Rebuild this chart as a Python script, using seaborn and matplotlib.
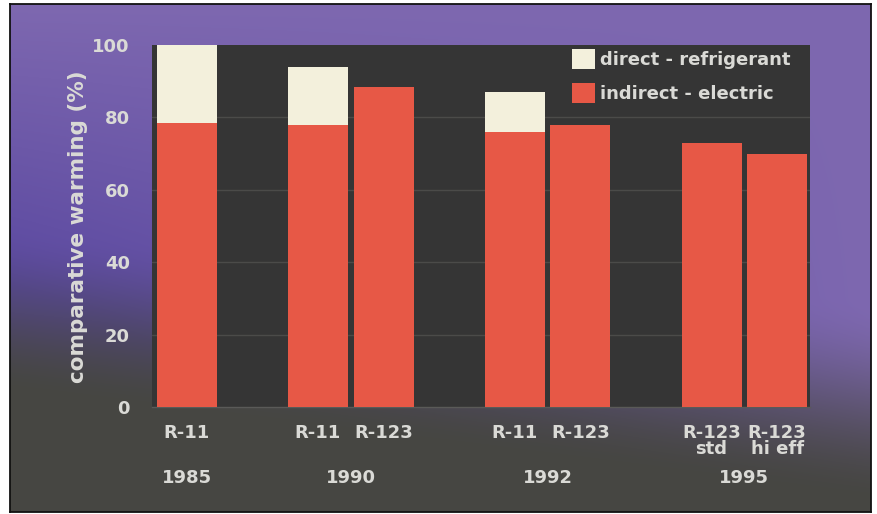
import numpy as np
import pandas as pd
import matplotlib
matplotlib.use("Agg")
import matplotlib.pyplot as plt
from matplotlib.patches import Patch
import seaborn as sns

# ---- data -------------------------------------------------------------
years = ["1985", "1990", "1992", "1995"]
bar_year = ["1985", "1990", "1990", "1992", "1992", "1995", "1995"]
bar_labels = ["R-11", "R-11", "R-123", "R-11", "R-123", "R-123\nstd", "R-123\nhi eff"]
indirect_electric = [78.5, 78, 88.5, 76, 78, 73, 70]
direct_refrigerant = [21.5, 16, 0, 11, 0, 0, 0]
y_ticks = [0, 20, 40, 60, 80, 100]
legend_labels = ["direct - refrigerant", "indirect - electric"]

# ---- styling ------------------------------------------------------------
RED = "#e75846"
CREAM = "#f3f0dc"
PLOT_BG = "#353535"
TEXT = "#dadad6"

sns.set_style("dark")
plt.rcParams["font.family"] = ["DejaVu Sans"]
plt.rcParams["font.weight"] = "bold"

# bars sit one slot apart inside a year, with an empty slot between years
pos, p, prev = [], 0, None
for yr in bar_year:
    if prev is not None:
        p += 1 if yr == prev else 2
    pos.append(p)
    prev = yr

df = pd.DataFrame({
    "pos": pos,
    "label": bar_labels,
    "year": bar_year,
    "indirect": indirect_electric,
    "direct": direct_refrigerant,
})
df["total"] = df["indirect"] + df["direct"]

W_PX, H_PX = 878, 514
fig = plt.figure(figsize=(W_PX / 100, H_PX / 100), dpi=100, facecolor="white")

# ---- slide background: purple fading into dark grey towards the bottom --
fx0, fy0, fx1, fy1 = 10, 4, 871, 512
bw, bh = fx1 - fx0, fy1 - fy0
yy, xx = np.mgrid[0:bh, 0:bw].astype(float)
xf = xx / bw
purple_top = np.array([126, 104, 176]) / 255
purple_left = np.array([90, 72, 160]) / 255
dark = np.array([70, 70, 66]) / 255
hmix = np.clip((1 - xf) * (yy / bh) * 1.8, 0, 1)[..., None]
purple = purple_top * (1 - hmix) + purple_left * hmix
y_start = 225 + 70 * xf
y_span = 165 + 40 * xf
d = np.clip((yy - y_start) / y_span, 0, 1)
d = (d * d * (3 - 2 * d))[..., None]
img = purple * (1 - d) + dark * d

bg = fig.add_axes([fx0 / W_PX, 1 - fy1 / H_PX, bw / W_PX, bh / H_PX])
bg.imshow(img, aspect="auto", interpolation="bilinear")
bg.set_xticks([])
bg.set_yticks([])
for s in bg.spines.values():
    s.set_visible(True)
    s.set_color("#111111")
    s.set_linewidth(1.3)

# ---- main chart ---------------------------------------------------------
ax_l, ax_r, ax_t, ax_b = 152, 810, 45, 407
ax = fig.add_axes([ax_l / W_PX, 1 - ax_b / H_PX, (ax_r - ax_l) / W_PX, (ax_b - ax_t) / H_PX])
ax.set_facecolor(PLOT_BG)

bar_kw = dict(native_scale=True, width=0.915, saturation=1, errorbar=None,
              linewidth=0, ax=ax, zorder=3)
sns.barplot(data=df, x="pos", y="total", color=CREAM, **bar_kw)
sns.barplot(data=df, x="pos", y="indirect", color=RED, **bar_kw)

ax.set_xlim(-0.53, 9.5)
ax.set_ylim(0, 100)
ax.set_yticks(y_ticks)
ax.set_yticklabels([str(v) for v in y_ticks])
ax.set_xticks(df["pos"])
ax.set_xticklabels(df["label"], linespacing=0.85)
ax.tick_params(axis="x", length=0, pad=12, labelsize=13, colors=TEXT)
ax.tick_params(axis="y", length=0, pad=16, labelsize=13, colors=TEXT)
ax.set_xlabel("")
ax.set_ylabel("")

ax.set_axisbelow(True)
ax.grid(False)
for v in y_ticks[1:-1]:
    ax.axhline(v, color="#4b4b49", lw=1.0, zorder=1)
for s in ["top", "right", "left"]:
    ax.spines[s].set_visible(False)
ax.spines["bottom"].set_color("#5a5a58")
ax.spines["bottom"].set_linewidth(1.0)

# year captions under each group
for yr in years:
    cx = df.loc[df["year"] == yr, "pos"].mean()
    ax.text(cx, -0.196, yr, transform=ax.get_xaxis_transform(),
            ha="center", va="center", fontsize=13, color=TEXT)

# y axis title
fig.text(78 / W_PX, 1 - 227 / H_PX, "comparative warming (%)", rotation=90,
         ha="center", va="center", fontsize=15.5, color=TEXT)

# legend
handles = [Patch(facecolor=CREAM, edgecolor="none"),
           Patch(facecolor=RED, edgecolor="none")]
leg = ax.legend(handles, legend_labels, loc="upper left",
                bbox_to_anchor=((572 - ax_l) / (ax_r - ax_l), (ax_b - 49) / (ax_b - ax_t)),
                frameon=False, fontsize=13, handlelength=1.25, handleheight=1.3,
                handletextpad=0.3, labelspacing=0.8, borderpad=0, borderaxespad=0)
for t in leg.get_texts():
    t.set_color(TEXT)

fig.savefig("out.png", dpi=100, facecolor="white")
